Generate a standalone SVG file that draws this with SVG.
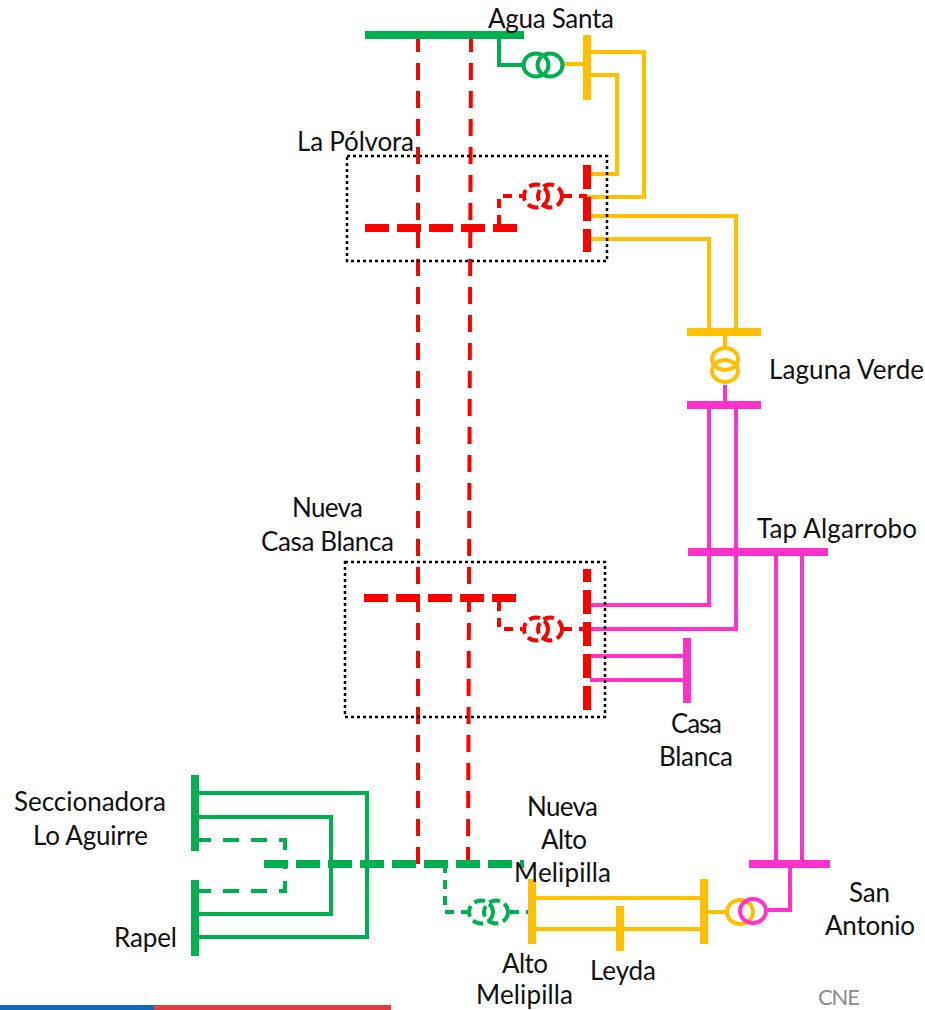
<svg xmlns="http://www.w3.org/2000/svg" width="925" height="1010" viewBox="0 0 925 1010">
<style>
text{font-family:Lato,"Open Sans",sans-serif;font-size:26px;fill:#111}
.l{fill:none;stroke-width:4}
.b{fill:none;stroke-width:8}
.g{stroke:#00B050}.r{stroke:#FF0000}.o{stroke:#FFC000}.p{stroke:#FF33CC}
.d{stroke-dasharray:9 7}
.vd{stroke-dasharray:17 11}
.gd{stroke-dasharray:16 12}
.bd{stroke-dasharray:24 8}
.ed{stroke-dasharray:11 5}
.box{fill:none;stroke:#000;stroke-width:2.5;stroke-dasharray:3 3}
.t{fill:none;stroke-width:4}
</style>
<rect width="925" height="1010" fill="#fff"/>
<g id="connectors">
<path class="l r vd" d="M418 35V864"/>
<path class="l r vd" d="M471 35L468 864"/>
<path class="l g" d="M499 39V65H522"/>
<path class="l o" d="M563 64H587"/>
<path class="l o" d="M587 52H644V197H587"/>
<path class="l o" d="M587 75H617V174H590"/>
<path class="l o" d="M590 216H736V331"/>
<path class="l o" d="M590 239H709V331"/>
<path class="l o" d="M725 336V347"/>
<path class="l p" d="M725 385V405"/>
<path class="l p" d="M736 405V629H587"/>
<path class="l p" d="M709 405V605H585"/>
<path class="l p" d="M587 656H687"/>
<path class="l p" d="M590 680H687"/>
<path class="l p" d="M776 552V864"/>
<path class="l p" d="M802 552V864"/>
<path class="l p" d="M790 864V910H768"/>
<path class="l r d" d="M499 224V196H522"/>
<path class="l r d" d="M563 196H587"/>
<path class="l r d" d="M499 602V629H522"/>
<path class="l r d" d="M563 629H587"/>
<path class="l g" d="M195 793H367V937H195"/>
<path class="l g" d="M195 817H331V914H195"/>
<path class="l g gd" d="M195 840H285V866"/>
<path class="l g gd" d="M195 891H285V866"/>
<path class="l g d" d="M445 864V912H467"/>
<path class="l g d" d="M510 912H532"/>
<path class="l o" d="M532 898H704"/>
<path class="l o" d="M532 929H704"/>
<path class="l o" d="M704 912H727"/>
</g>
<g id="la-polvora">
<rect class="box" x="347" y="156" width="260" height="105"/>
<path class="b r bd" d="M365 228H517"/>
<path class="b r bd" d="M587 165V252"/>
<ellipse class="t r ed" cx="536" cy="196" rx="12" ry="11.5"/>
<ellipse class="t r ed" cx="550" cy="196" rx="12" ry="11.5"/>
<text x="297" y="151" textLength="117">La Pólvora</text>
</g>
<g id="nueva-casa-blanca">
<rect class="box" x="345" y="562" width="260" height="155"/>
<path class="b r bd" d="M364 598H517"/>
<path class="b r bd" stroke-dashoffset="11" d="M587 569V710"/>
<ellipse class="t r ed" cx="536" cy="629" rx="12" ry="11.5"/>
<ellipse class="t r ed" cx="550" cy="629" rx="12" ry="11.5"/>
<text x="292" y="517" textLength="71">Nueva</text>
<text x="261" y="551" textLength="133">Casa Blanca</text>
</g>
<g id="agua-santa">
<path class="b g" d="M365 35H524"/>
<path class="b o" d="M587 35V100"/>
<ellipse class="t g" cx="536" cy="65" rx="12.5" ry="11.5"/>
<ellipse class="t g" cx="550" cy="65" rx="12.5" ry="11.5"/>
<text x="488" y="28" textLength="126">Agua Santa</text>
</g>
<g id="laguna-verde">
<path class="b o" d="M687 332H761"/>
<path class="b p" d="M687 405H761"/>
<ellipse class="t o" cx="725" cy="359" rx="13" ry="11"/>
<ellipse class="t o" cx="725" cy="371" rx="13" ry="11"/>
<text x="769" y="379" textLength="155">Laguna Verde</text>
</g>
<g id="tap-algarrobo">
<path class="b p" d="M688 552H828"/>
<text x="757" y="538" textLength="160">Tap Algarrobo</text>
</g>
<g id="casa-blanca">
<path class="b p" d="M687 638V703"/>
<text x="671" y="733" textLength="51">Casa</text>
<text x="659" y="766" textLength="74">Blanca</text>
</g>
<g id="san-antonio">
<path class="b p" d="M749 864H830"/>
<ellipse class="t o" cx="740" cy="912" rx="13" ry="12"/>
<ellipse class="t p" cx="753" cy="911" rx="13" ry="12"/>
<text x="849" y="902" textLength="41">San</text>
<text x="825" y="935" textLength="90">Antonio</text>
</g>
<g id="seccionadora-lo-aguirre">
<path class="b g" d="M195 775V851"/>
<text x="14" y="811" textLength="152">Seccionadora</text>
<text x="33" y="845" textLength="115">Lo Aguirre</text>
</g>
<g id="rapel">
<path class="b g" d="M195 880V956"/>
<text x="114" y="947" textLength="63">Rapel</text>
</g>
<g id="nueva-alto-melipilla">
<path class="b g bd" d="M264 864H524"/>
<ellipse class="t g ed" cx="481" cy="912" rx="12" ry="11.5"/>
<ellipse class="t g ed" cx="496" cy="912" rx="12" ry="11.5"/>
</g>
<g id="alto-melipilla">
<path class="b o" d="M532 879V944"/>
<text x="502" y="973" textLength="46">Alto</text>
<text x="476" y="1004" textLength="97">Melipilla</text>
</g>
<g id="leyda">
<path class="b o" d="M620 906V951"/>
<path class="b o" d="M704 879V944"/>
<text x="590" y="980" textLength="66">Leyda</text>
</g>
<g id="nueva-alto-melipilla-label">
<text x="527" y="816" textLength="71">Nueva</text>
<text x="541" y="849" textLength="46">Alto</text>
<text x="514" y="882" textLength="97">Melipilla</text>
</g>
<g id="footer">
<rect x="0" y="1005" width="154" height="5" fill="#0F69B4"/>
<rect x="154" y="1005" width="237" height="5" fill="#E03C42"/>
<text x="818" y="1005" textLength="42" style="font-size:22px;fill:#8c8c8c">CNE</text>
</g>
</svg>
